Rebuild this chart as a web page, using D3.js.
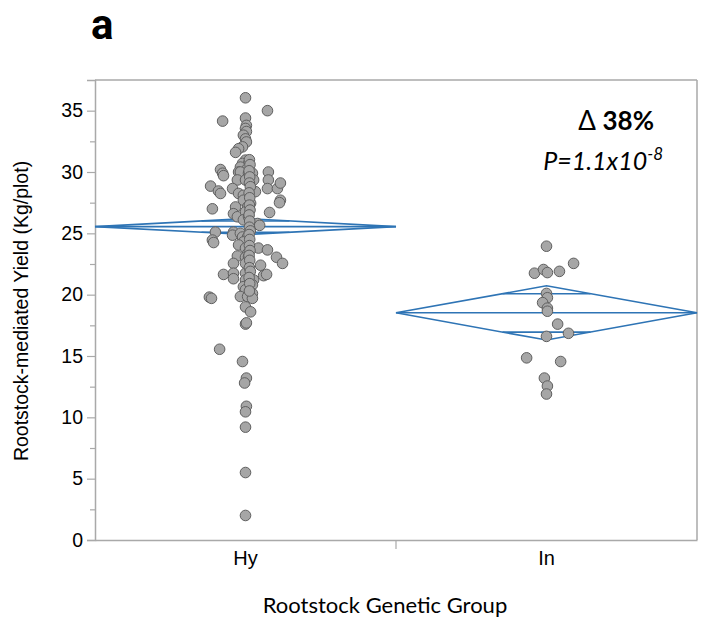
<!DOCTYPE html>
<html><head><meta charset="utf-8">
<script src="https://cdn.jsdelivr.net/npm/d3@7"></script>
<style>body{margin:0;background:#fff}svg{display:block}</style>
</head><body>
<svg id="c" width="705" height="628"></svg>
<script>
const categories = ["Hy", "In"];
const yTicks = [0, 5, 10, 15, 20, 25, 30, 35];
const yMinorTicks = [2.5, 7.5, 12.5, 17.5, 22.5, 27.5, 32.5];

// Hy group: observed yields and horizontal jitter (fraction of group width)
const hyValues = [36.05,35.0,34.15,34.4,33.8,33.55,33.3,33.0,32.7,32.45,32.05,31.9,31.6,30.97,30.7,30.7,30.4,30.3,30.2,30.0,30.0,29.9,29.9,
  29.9,29.7,30.0,29.9,29.35,29.35,29.35,29.35,28.85,28.45,28.25,28.65,28.25,28.1,28.5,28.4,28.65,28.65,29.1,27.7,27.5,27.7,27.45,27.15,27.0,27.15,26.6,26.35,26.75,26.1,26.35,26.7,25.8,25.65,25.1,24.45,24.25,25.1,24.85,25.0,24.7,24.7,24.3,24.05,23.8,23.35,23.8,23.65,23.05,23.15,23.05,
  23.1,22.55,22.55,22.55,21.65,21.75,21.3,21.75,21.2,21.2,20.8,20.8,22.4,21.55,21.65,20.65,20.4,20.1,19.85,19.85,19.7,19.0,18.6,19.8,19.7,17.6,17.7,
  15.55,14.55,13.2,12.8,10.9,10.45,9.2,5.5,2.0,
  31.0,30.6,30.1,29.6,29.1,28.8,28.3,27.9,27.3,26.9,26.5,26.0,25.5,25.2,24.9,24.5,24.0,23.6,23.2,22.8,22.2,21.9,21.4,20.9,20.3];
const hyJitter = [0,.073,-.076,0,.003,0,.003,-.007,0,.003,-.010,-.023,-.033,0,-.010,.010,-.017,.007,-.083,.076,-.023,0,.023,
  -.076,-.073,-.017,.010,-.027,0,.027,.076,-.116,-.090,-.083,-.043,-.023,-.007,.017,.033,.073,.106,.116,.116,.113,-.007,.017,.007,-.110,-.033,-.040,-.027,0,-.007,.010,.080,.040,.047,-.100,-.110,-.106,-.040,-.043,-.017,-.010,.007,-.007,-.023,0,.007,.043,.073,.103,-.027,0,
  .010,.123,-.040,0,-.073,-.040,-.040,0,0,.027,.007,.023,.050,.060,.070,-.007,0,.023,-.017,.007,.023,0,.017,-.120,-.113,0,.003,
  -.086,-.010,.003,-.003,.003,0,0,0,0,
  .013,.015,.012,.014,.013,.016,.012,.014,.013,.015,.012,.014,.013,.016,.012,.014,.013,.015,.012,.014,.013,.016,.012,.014,.013];

// In group
const inValues = [23.95,22.55,21.75,22.05,21.8,21.9,20.1,19.75,19.35,18.9,18.65,17.6,16.85,16.6,14.85,14.55,13.2,12.55,11.9];
const inJitter = [0,.090,-.040,-.010,.003,.043,0,.003,-.013,.003,.003,.037,.073,0,-.066,.047,-.007,.003,0];

// Means diamonds: mean, lower/upper 95% CI
const groupMeans = [25.55, 18.52];
const ciLower = [24.9, 16.3];
const ciUpper = [26.2, 20.72];

const W = 705, H = 628;
const m = {left: 95, right: 8, top: 80, bottom: 88};
const svg = d3.select("#c");
const x = d3.scaleBand().domain(categories).range([m.left, W - m.right]).padding(0);
const y = d3.scaleLinear().domain([0, 37.5]).range([H - m.bottom, m.top]);
const axisCol = "#a9a9a9";
const blue = "#2e74b5";

// frame top & right
svg.append("line").attr("x1", m.left).attr("x2", W - m.right).attr("y1", m.top).attr("y2", m.top)
  .attr("stroke", axisCol).attr("stroke-width", 1.5);
svg.append("line").attr("x1", W - m.right).attr("x2", W - m.right).attr("y1", m.top).attr("y2", H - m.bottom)
  .attr("stroke", axisCol).attr("stroke-width", 1.5);

// y axis
const ya = svg.append("g").attr("transform", `translate(${m.left},0)`)
  .call(d3.axisLeft(y).tickValues(yTicks).tickSize(8).tickPadding(4).tickFormat(d3.format("d")));
ya.select(".domain").attr("stroke", axisCol).attr("stroke-width", 1.5);
ya.selectAll(".tick line").attr("stroke", axisCol).attr("stroke-width", 1.2);
ya.selectAll("text").attr("font-family", "Liberation Sans, Arial, sans-serif").attr("font-size", 19.5).attr("fill", "#000");
const yam = svg.append("g").attr("transform", `translate(${m.left},0)`)
  .call(d3.axisLeft(y).tickValues(yMinorTicks).tickSize(5).tickFormat(""));
yam.select(".domain").remove();
yam.selectAll(".tick line").attr("stroke", axisCol).attr("stroke-width", 1.2);

// x axis
const xa = svg.append("g").attr("transform", `translate(0,${H - m.bottom})`)
  .call(d3.axisBottom(x).tickSize(0).tickPadding(11));
xa.select(".domain").attr("stroke", axisCol).attr("stroke-width", 1.5);
xa.selectAll("text").attr("font-family", "Liberation Sans, Arial, sans-serif").attr("font-size", 20).attr("fill", "#000");
// divider tick between groups
svg.append("line")
  .attr("x1", x(categories[1])).attr("x2", x(categories[1]))
  .attr("y1", H - m.bottom).attr("y2", H - m.bottom + 9)
  .attr("stroke", axisCol).attr("stroke-width", 1.2);

// mean diamonds
categories.forEach((c, i) => {
  const x0 = x(c), bw = x.bandwidth(), xc = x0 + bw / 2;
  const g = svg.append("g").attr("fill", "none").attr("stroke", blue).attr("stroke-width", 1.6);
  g.append("path").attr("d",
    `M${x0},${y(groupMeans[i])}L${xc},${y(ciUpper[i])}L${x0 + bw},${y(groupMeans[i])}L${xc},${y(ciLower[i])}Z`);
  g.append("line").attr("x1", x0).attr("x2", x0 + bw).attr("y1", y(groupMeans[i])).attr("y2", y(groupMeans[i]));
  const half = (ciUpper[i] - groupMeans[i]) / Math.SQRT2;
  const halfL = (groupMeans[i] - ciLower[i]) / Math.SQRT2;
  [groupMeans[i] + half, groupMeans[i] - halfL].forEach(v => {
    g.append("line").attr("x1", xc - bw * 0.146).attr("x2", xc + bw * 0.146).attr("y1", y(v)).attr("y2", y(v));
  });
});

// points
const pts = [];
hyValues.forEach((v, i) => pts.push({c: "Hy", v, j: hyJitter[i]}));
inValues.forEach((v, i) => pts.push({c: "In", v, j: inJitter[i]}));
svg.append("g").selectAll("circle").data(pts).join("circle")
  .attr("cx", d => x(d.c) + x.bandwidth() / 2 + d.j * x.bandwidth())
  .attr("cy", d => y(d.v))
  .attr("r", 5.3)
  .attr("fill", "#a6a6a6").attr("stroke", "#5f5f5f").attr("stroke-width", 1);

// titles
svg.append("text").attr("x", 91).attr("y", 39).text("a")
  .attr("font-family", "Roboto, sans-serif").attr("font-weight", "bold").attr("font-size", 42).attr("fill", "#000");
svg.append("text").attr("transform", `translate(28,${(m.top + H - m.bottom) / 2 + 1}) rotate(-90)`)
  .attr("text-anchor", "middle").text("Rootstock-mediated Yield (Kg/plot)")
  .attr("font-family", "Liberation Sans, Arial, sans-serif").attr("font-size", 19.5).attr("fill", "#000");
svg.append("text").attr("x", 385).attr("y", 613).attr("text-anchor", "middle").text("Rootstock Genetic Group")
  .attr("font-family", "Lato, sans-serif").attr("font-size", 22).attr("fill", "#000");

// annotations
const a1 = svg.append("text").attr("x", 654).attr("y", 130).attr("text-anchor", "end")
  .attr("font-family", "Lato, sans-serif").attr("font-size", 26).attr("fill", "#000");
a1.append("tspan").text("Δ ");
a1.append("tspan").attr("font-weight", "bold").text("38%");
const a2 = svg.append("text").attr("x", 663).attr("y", 170).attr("text-anchor", "end")
  .attr("font-family", "Lato, sans-serif").attr("font-style", "italic").attr("font-size", 25).attr("fill", "#000");
a2.append("tspan").text("P=1.1x10");
a2.append("tspan").attr("font-size", 17).attr("dy", -10).text("-8");
</script>
</body></html>
